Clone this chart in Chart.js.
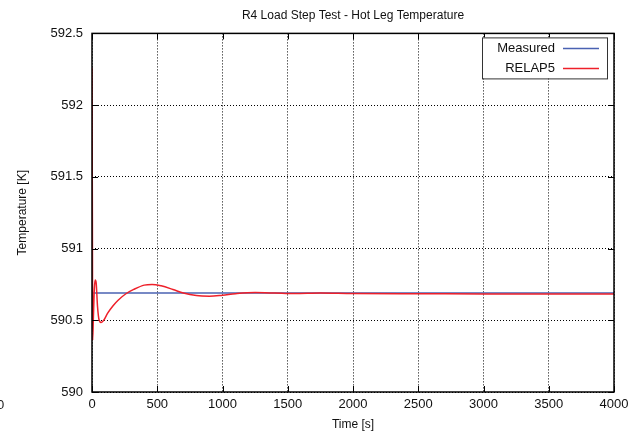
<!DOCTYPE html>
<html>
<head>
<meta charset="utf-8">
<script src="https://cdn.jsdelivr.net/npm/chart.js@4/dist/chart.umd.min.js"></script>
<style>
  html, body { margin: 0; padding: 0; background: #fff; }
  #wrap { position: relative; width: 637px; height: 432px; }
  #stray { position: absolute; left: -3px; top: 397px; font: 13px "Liberation Sans", Arial, sans-serif; color: #222; }
</style>
</head>
<body>
<div id="wrap">
  <canvas id="myChart" width="637" height="432"></canvas>
  <span id="stray">0</span>
</div>
<script>
'use strict';

const xTicks = [0, 500, 1000, 1500, 2000, 2500, 3000, 3500, 4000];
const yTicks = [590, 590.5, 591, 591.5, 592, 592.5];

// measured hot leg temperature (flat)
const measuredTime = [0, 4000];
const measuredTemp = [590.69, 590.69];

// RELAP5 response
const relapTime = [0, 3, 5, 10, 18, 25, 32, 42, 55, 70, 90, 120, 160, 200, 260, 320, 400, 460, 530, 620, 700, 800, 900, 1000, 1100, 1250, 1400, 1550, 1750, 2000, 2500, 3000, 3500, 4000];
const relapTemp = [592.26, 591.2, 590.36, 590.5, 590.72, 590.78, 590.76, 590.6, 590.5, 590.485, 590.5, 590.55, 590.6, 590.64, 590.685, 590.715, 590.745, 590.75, 590.74, 590.715, 590.69, 590.672, 590.668, 590.675, 590.685, 590.693, 590.69, 590.686, 590.69, 590.686, 590.685, 590.684, 590.684, 590.684];

const font = "'Liberation Sans', Arial, sans-serif";
const blue = 'rgb(74, 98, 178)';
const red = 'rgb(238, 32, 42)';

function toPoints(xs, ys) {
  const pts = [];
  for (let i = 0; i < xs.length; i++) {
    pts.push({ x: xs[i], y: ys[i] });
  }
  return pts;
}

// short inward ticks on all four sides, plus the solid frame
const innerTicks = {
  id: 'innerTicks',
  afterDatasetsDraw(chart) {
    const ctx = chart.ctx;
    const a = chart.chartArea;
    const xs = chart.scales.x;
    const ys = chart.scales.y;
    ctx.save();
    ctx.strokeStyle = '#000';
    ctx.lineWidth = 1;
    ctx.beginPath();
    for (const v of xTicks) {
      const px = Math.round(xs.getPixelForValue(v)) + 0.5;
      ctx.moveTo(px, a.bottom); ctx.lineTo(px, a.bottom - 6);
      ctx.moveTo(px, a.top); ctx.lineTo(px, a.top + 6);
    }
    for (const v of yTicks) {
      const py = Math.round(ys.getPixelForValue(v)) + 0.5;
      ctx.moveTo(a.left, py); ctx.lineTo(a.left + 6, py);
      ctx.moveTo(a.right, py); ctx.lineTo(a.right - 6, py);
    }
    ctx.stroke();
    ctx.lineWidth = 1.5;
    ctx.strokeRect(a.left, a.top, a.right - a.left, a.bottom - a.top);
    ctx.restore();
  }
};

// gnuplot-style key: label, then line sample, in a boxed frame
const keyBox = {
  id: 'keyBox',
  afterDraw(chart) {
    const ctx = chart.ctx;
    const a = chart.chartArea;
    const right = a.right - 7;
    const left = right - 125;
    const top = a.top + 4;
    ctx.save();
    ctx.fillStyle = '#fff';
    ctx.fillRect(left, top, right - left, 41);
    ctx.strokeStyle = '#333';
    ctx.lineWidth = 1;
    ctx.strokeRect(left + 0.5, top + 0.5, right - left, 41);
    ctx.font = '13px ' + font;
    ctx.textAlign = 'right';
    ctx.textBaseline = 'middle';
    chart.data.datasets.forEach((ds, i) => {
      const y = top + 11 + i * 20;
      ctx.fillStyle = '#111';
      ctx.fillText(ds.label, right - 52, y);
      ctx.strokeStyle = ds.borderColor;
      ctx.lineWidth = 1.5;
      ctx.beginPath();
      ctx.moveTo(right - 44, y);
      ctx.lineTo(right - 8, y);
      ctx.stroke();
    });
    ctx.restore();
  }
};

const data = {
  datasets: [
    {
      label: 'Measured',
      data: toPoints(measuredTime, measuredTemp),
      borderColor: blue,
      borderWidth: 1.5,
      pointRadius: 0,
      order: 2,
    },
    {
      label: 'RELAP5',
      data: toPoints(relapTime, relapTemp),
      borderColor: red,
      borderWidth: 1.5,
      pointRadius: 0,
      cubicInterpolationMode: 'monotone',
      order: 1,
    },
  ],
};

const config = {
  type: 'line',
  data: data,
  options: {
    responsive: false,
    animation: false,
    layout: { padding: { top: 0, left: 0, right: 23, bottom: 0 } },
    plugins: {
      legend: { display: false },
      tooltip: { enabled: false },
      title: {
        display: true,
        text: 'R4 Load Step Test - Hot Leg Temperature',
        fullSize: false,
        color: '#111',
        font: { family: font, size: 12, weight: 'normal' },
        padding: { top: 8, bottom: 11 },
      },
    },
    scales: {
      x: {
        type: 'linear',
        min: 0,
        max: 4000,
        afterBuildTicks: (s) => { s.ticks = xTicks.map(v => ({ value: v })); },
        afterFit: (s) => { s.height = 40; },
        grid: { color: '#000', lineWidth: 1, drawTicks: false },
        border: { display: false, dash: [1, 2] },
        ticks: { color: '#111', font: { family: font, size: 13 }, padding: 5, maxRotation: 0, callback: (v) => String(v) },
        title: { display: true, text: 'Time [s]', color: '#111', font: { family: font, size: 12 }, padding: { top: 1, bottom: 0 } },
      },
      y: {
        min: 590,
        max: 592.5,
        afterBuildTicks: (s) => { s.ticks = yTicks.map(v => ({ value: v })); },
        afterFit: (s) => { s.width = 92; },
        grid: { color: '#000', lineWidth: 1, drawTicks: false },
        border: { display: false, dash: [1, 2] },
        ticks: { color: '#111', font: { family: font, size: 13 }, padding: 9, callback: (v) => String(v) },
        title: { display: true, text: 'Temperature [K]', color: '#111', font: { family: font, size: 12 }, padding: { top: 15, bottom: 0 } },
      },
    },
  },
  plugins: [innerTicks, keyBox],
};

const canvasChart = document.getElementById('myChart');
const chart = new Chart(canvasChart, config);
</script>
</body>
</html>
